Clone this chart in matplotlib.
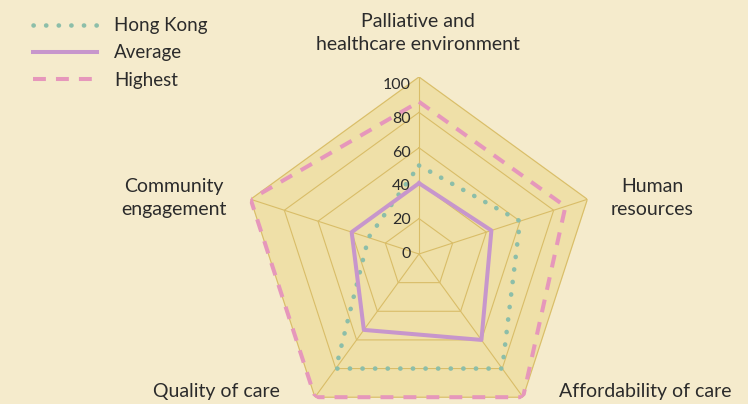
#!/usr/bin/env python3
"""Radar chart: palliative care quality — Hong Kong vs average vs highest."""
import numpy as np
import matplotlib
matplotlib.use("Agg")
import matplotlib.pyplot as plt
from matplotlib.lines import Line2D
import matplotlib.transforms as mtransforms

categories = ["Palliative and\nhealthcare environment", "Human\nresources",
              "Affordability of care", "Quality of care", "Community\nengagement"]
hong_kong = [50, 60, 80, 80, 30]
average = [40, 43, 60, 53, 40]
highest = [86, 87, 100, 100, 100]
ticks = [0, 20, 40, 60, 80, 100]

BG = "#f5ebcc"
FILL = "#efe0a8"
GRID = "#d9bd68"
TEAL = "#8cbea9"
PURPLE = "#c796cc"
PINK = "#e697bb"
TEXT = "#2b2b2b"

plt.rcParams["font.family"] = ["Lato", "DejaVu Sans"]

W, H = 748, 404
fig = plt.figure(figsize=(W / 100, H / 100), dpi=100, facecolor=BG)

# polar axes centred on (419, 254) px with 177 px radius
cx, cy, R = 419, 254, 177
ax = fig.add_axes([(cx - R) / W, (H - cy - R) / H, 2 * R / W, 2 * R / H],
                  projection="polar")
ax.set_theta_zero_location("N")
ax.set_theta_direction(-1)
ax.set_ylim(0, 100)
ax.patch.set_visible(False)
ax.grid(False)
ax.set_xticks([])
ax.set_yticks([])
ax.spines["polar"].set_visible(False)

n = len(categories)
theta = np.linspace(0, 2 * np.pi, n, endpoint=False)
closed = np.append(theta, theta[0])


def close(vals):
    return np.append(vals, vals[0])


# background pentagon and grid
ax.fill(closed, [100] * (n + 1), color=FILL, zorder=0)
for t in ticks[1:]:
    ax.plot(closed, [t] * (n + 1), color=GRID, lw=0.8, zorder=1)
for th in theta:
    ax.plot([th, th], [0, 100], color=GRID, lw=0.8, zorder=1)

# radial tick labels, slightly below each ring on the top spoke
lab_off = mtransforms.offset_copy(ax.transData, fig=fig, x=-8, y=0, units="dots")
for t in ticks:
    ax.text(0, t * 0.955, str(t), transform=lab_off, ha="right", va="center",
            fontsize=11.5, color=TEXT, zorder=5)

# series
HK_STYLE = dict(color=TEAL, lw=3.3, linestyle=(0, (0.05, 2.7)),
                dash_capstyle="round")
HI_STYLE = dict(color=PINK, lw=2.9, linestyle=(0, (3.2, 2.5)))
AV_STYLE = dict(color=PURPLE, lw=2.9)
ax.plot(closed, close(highest), zorder=3, **HI_STYLE)
ax.plot(closed, close(hong_kong), zorder=3, **HK_STYLE)
ax.plot(closed, close(average), zorder=4, **AV_STYLE)

# category labels (pixel positions)
label_pos = [(418, 33), (652, 198), (645, 391), (216, 391), (174, 198)]
for text, (px, py) in zip(categories, label_pos):
    fig.text(px / W, 1 - py / H, text, ha="center", va="center",
             fontsize=14, color=TEXT, linespacing=1.45)

handles = [Line2D([], [], **HK_STYLE), Line2D([], [], **AV_STYLE),
           Line2D([], [], **HI_STYLE)]
fig.legend(handles, ["Hong Kong", "Average", "Highest"], loc="upper left",
           bbox_to_anchor=(20 / W, 1 - 4 / H), frameon=False, fontsize=13.5,
           handlelength=3.4, handletextpad=0.9, labelspacing=0.55,
           labelcolor=TEXT, borderpad=0.2)

fig.savefig("out.png", dpi=100, facecolor=BG)
